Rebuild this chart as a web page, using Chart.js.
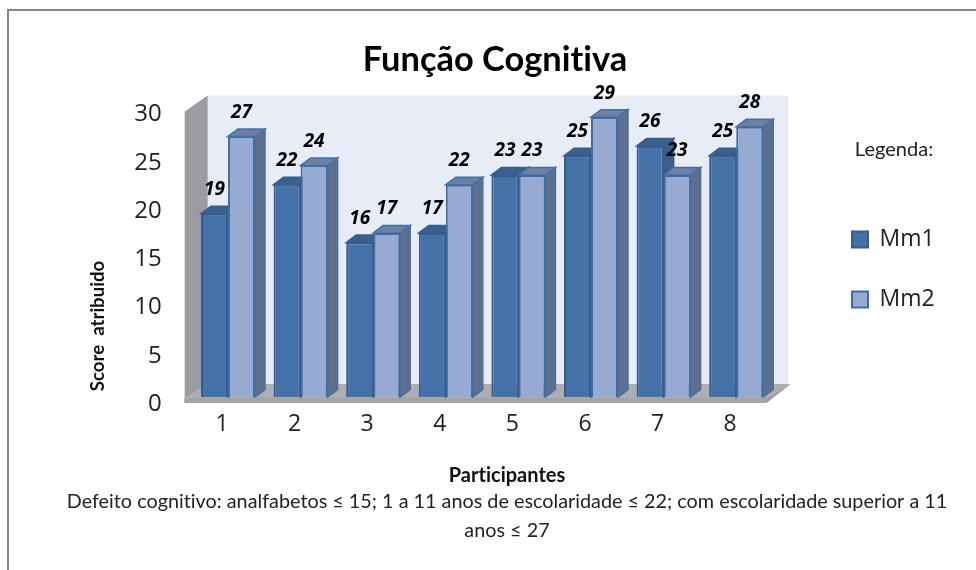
<!DOCTYPE html>
<html>
<head>
<meta charset="utf-8">
<title>Função Cognitiva</title>
<script src="https://cdn.jsdelivr.net/npm/chart.js@4"></script>
<style>
  html, body { margin: 0; padding: 0; background: #fff; }
  canvas { display: block; }
</style>
</head>
<body>
<canvas id="chart" width="976" height="570"></canvas>
<script>
const categories = ['1', '2', '3', '4', '5', '6', '7', '8'];
const mm1 = [19, 22, 16, 17, 23, 25, 26, 25];
const mm2 = [27, 24, 17, 22, 23, 29, 23, 28];
const yTicks = [0, 5, 10, 15, 20, 25, 30];

const chartTitle = 'Função Cognitiva';
const yTitle = 'Score  atribuido';
const xTitle = 'Participantes';
const legendTitle = 'Legenda:';
const noteLines = [
  'Defeito cognitivo: analfabetos ≤ 15; 1 a 11 anos de escolaridade ≤ 22; com escolaridade superior a 11',
  'anos ≤ 27'
];

const textFont = 'Lato, "Open Sans", sans-serif';
const numFont = '"Open Sans", sans-serif';
const depthX = 10;
const depthY = -7.5;

function poly(ctx, pts, fill, stroke) {
  ctx.beginPath();
  pts.forEach((p, i) => i ? ctx.lineTo(p[0], p[1]) : ctx.moveTo(p[0], p[1]));
  ctx.closePath();
  ctx.fillStyle = fill;
  ctx.fill();
  if (stroke) {
    ctx.strokeStyle = stroke;
    ctx.lineWidth = 1.5;
    ctx.stroke();
  }
}

function label(ctx, text, x, y, font, color) {
  ctx.font = font;
  ctx.fillStyle = color || '#111';
  ctx.textAlign = 'center';
  ctx.textBaseline = 'middle';
  ctx.fillText(text, x, y);
}

// side and top faces per dataset, drawn under the real bars
const faceColors = [
  { top: '#38608F', side: '#38608F', edge: '#385D8A' },
  { top: '#6E7FA5', side: '#5F6E8C', edge: '#4472A8' }
];

const scene3d = {
  id: 'scene3d',
  afterLayout(chart) {
    // put title and legend where the reference has them
    const t = chart.titleBlock;
    t.left = 295;
    t.right = 695;
    const lg = chart.legend;
    const w = lg.width, h = lg.height;
    lg.left = 815;
    lg.right = 815 + w;
    lg.top = 191;
    lg.bottom = 191 + h;
  },
  beforeDraw(chart) {
    const ctx = chart.ctx;
    const a = chart.chartArea;
    const y0 = chart.scales.y.getPixelForValue(0);
    // tiny spacing turns off the Lato ti ligature
    ctx.letterSpacing = '0.01px';
    ctx.save();
    ctx.fillStyle = '#fff';
    ctx.fillRect(0, 0, chart.width, chart.height);

    // outer frame, only top and left show
    ctx.strokeStyle = '#858585';
    ctx.lineWidth = 2;
    ctx.beginPath();
    ctx.moveTo(8, chart.height);
    ctx.lineTo(8, 10);
    ctx.lineTo(chart.width, 10);
    ctx.stroke();

    const l = a.left - 7, r = a.right - 6;
    const backL = l + 23, backR = r + 22, backB = y0 - 13, backT = a.top - 12;
    // back wall
    poly(ctx, [[backL, backT], [backR, backT], [backR, backB], [backL, backB]], '#E8ECF6');
    // left wall
    poly(ctx, [[l, a.top + 4], [backL, backT], [backL, backB], [l, y0 + 5]], '#9B9C9F');
    // floor
    poly(ctx, [[l, y0 + 1], [backL, backB], [backR + 1, backB], [r, y0 + 1]], '#ADAEB1');
    poly(ctx, [[l, y0 + 1], [r, y0 + 1], [backR + 1, backB], [backR + 1, backB + 1], [r, y0 + 6], [l, y0 + 6]], '#9C9DA0');
    poly(ctx, [[l, y0 + 1], [r, y0 + 1], [r, y0 + 6], [l, y0 + 6]], '#A3A4A7');
    ctx.restore();
  },
  beforeDatasetsDraw(chart) {
    const ctx = chart.ctx;
    ctx.save();
    chart.data.datasets.forEach((ds, d) => {
      const c = faceColors[d];
      chart.getDatasetMeta(d).data.forEach(bar => {
        const right = bar.x + bar.width / 2;
        const left = bar.x - bar.width / 2;
        poly(ctx, [[left, bar.y], [left + depthX, bar.y + depthY], [right + depthX, bar.y + depthY], [right, bar.y]], c.top, c.edge);
        poly(ctx, [[right, bar.y], [right + depthX, bar.y + depthY], [right + depthX, bar.base + depthY], [right, bar.base]], c.side, c.edge);
      });
    });
    ctx.restore();
  },
  afterDatasetsDraw(chart) {
    const ctx = chart.ctx;
    ctx.save();
    chart.data.datasets.forEach((ds, d) => {
      chart.getDatasetMeta(d).data.forEach((bar, i) => {
        label(ctx, String(ds.data[i]), bar.x, bar.y - 24, 'italic bold 19px ' + numFont, '#000');
      });
    });
    // axis titles and note are free text in the original chart
    label(ctx, xTitle, 507, 476, 'bold 20px ' + textFont);
    noteLines.forEach((line, i) => label(ctx, line, 507, 502 + i * 29, '19.8px ' + textFont, '#222'));
    label(ctx, legendTitle, 894, 150, '20px ' + textFont, '#222');
    ctx.translate(98, 326);
    ctx.rotate(-Math.PI / 2);
    label(ctx, yTitle, 0, 0, 'bold 18.6px ' + textFont);
    ctx.restore();
  }
};

window.onload = function () {
  const ctx = document.getElementById('chart').getContext('2d');
  new Chart(ctx, {
    type: 'bar',
    data: {
      labels: categories,
      datasets: [
        { label: 'Mm1', data: mm1, backgroundColor: '#4472A8', borderColor: '#385D8A', borderWidth: 2 },
        { label: 'Mm2', data: mm2, backgroundColor: '#97ABD2', borderColor: '#3F6CA3', borderWidth: 2 }
      ]
    },
    options: {
      responsive: false,
      animation: false,
      categoryPercentage: 0.744,
      barPercentage: 1,
      layout: { padding: { left: 131.7, right: 203.5, top: 0, bottom: 113 } },
      plugins: {
        title: {
          display: true,
          text: chartTitle,
          color: '#000',
          font: { family: textFont, size: 34.4, weight: 'bold', lineHeight: 1.2 },
          padding: { top: 39.5, bottom: 26.7 }
        },
        legend: {
          position: 'chartArea',
          align: 'start',
          labels: {
            boxWidth: 16,
            boxHeight: 16,
            padding: 37,
            color: '#222',
            font: { family: numFont, size: 23, lineHeight: 1 }
          }
        },
        tooltip: { enabled: false }
      },
      scales: {
        x: {
          afterFit: s => { s.height = 60; },
          grid: { display: false, drawTicks: false },
          border: { display: false },
          ticks: { padding: 14, labelOffset: -6, color: '#222', font: { family: numFont, size: 23 } }
        },
        y: {
          min: yTicks[0],
          max: yTicks[yTicks.length - 1],
          afterFit: s => { s.width = 60; },
          grid: { display: false, drawTicks: false },
          border: { display: false },
          ticks: { stepSize: 5, padding: 30, labelOffset: 7, color: '#222', font: { family: numFont, size: 24 } }
        }
      }
    },
    plugins: [scene3d]
  });
};
</script>
</body>
</html>
